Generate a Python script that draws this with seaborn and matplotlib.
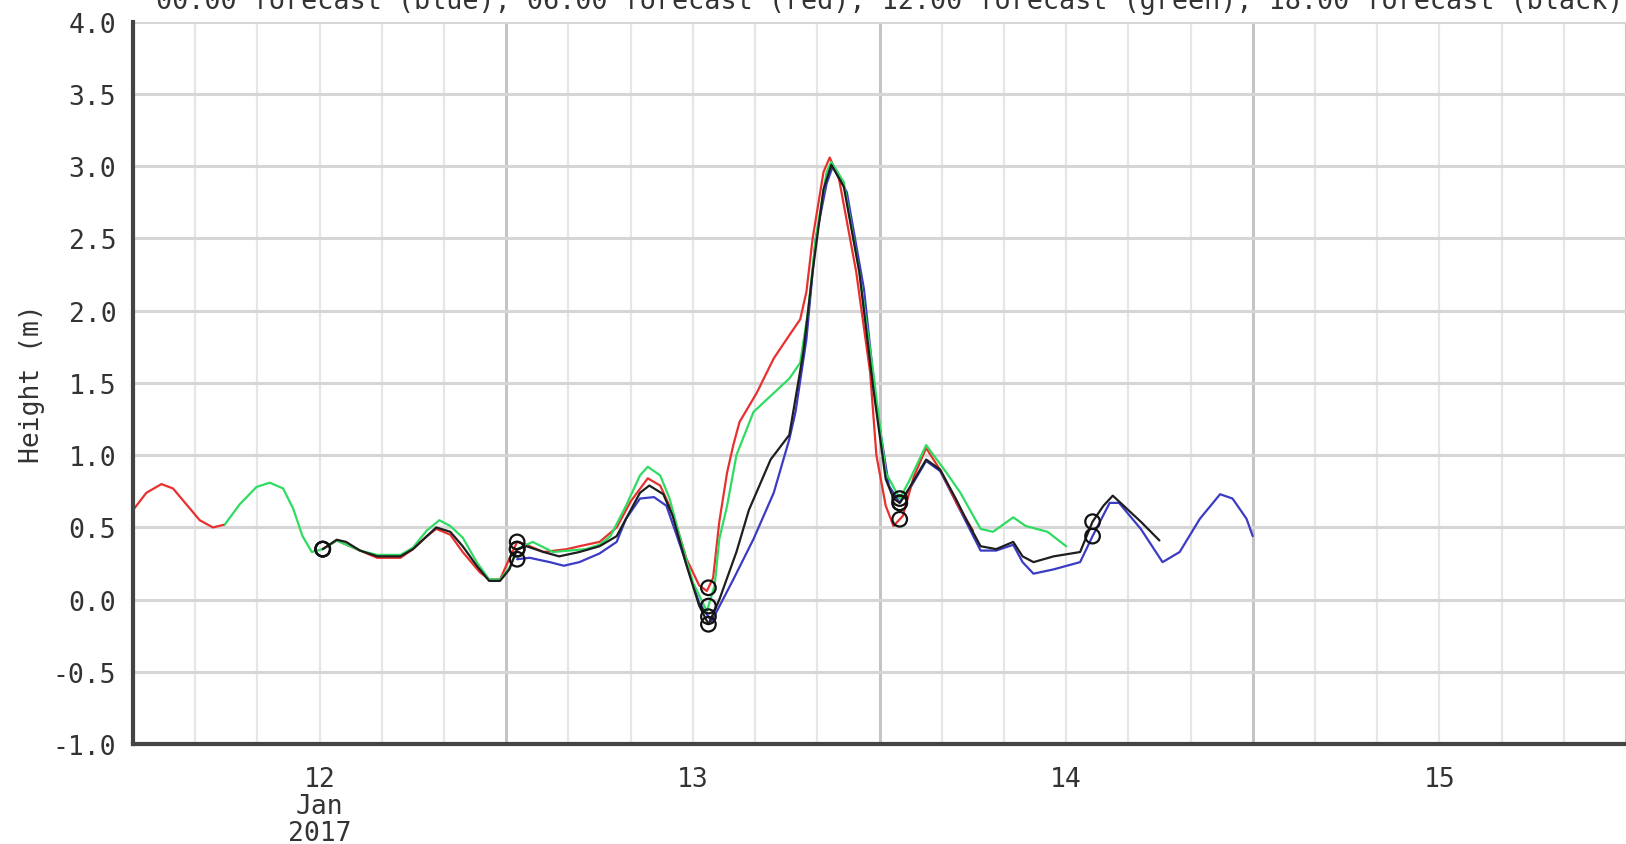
import numpy as np
import pandas as pd
import matplotlib
matplotlib.use("Agg")
import matplotlib.pyplot as plt
import seaborn as sns

# hours since 2017-01-12 00:00, heights in metres
red_early_h = [0, 0.86, 1.83, 2.57, 3.43, 4.29, 5.14, 5.9]
red_early_v = [0.62, 0.74, 0.80, 0.77, 0.66, 0.55, 0.50, 0.52]

red_h = [12.2, 13.1, 14.6, 15.7, 17.2, 18.0, 18.9, 19.5, 20.4, 21.2,
         22.3, 22.9, 23.6, 24.1, 24.7, 25.3, 26.4, 27.9, 28.7, 30.0,
         31.1, 32.0, 33.1, 33.9, 34.7, 35.6, 36.4, 36.9, 37.3, 37.7,
         38.2, 38.6, 39.0, 40.1, 41.2, 42.2, 42.9, 43.3, 43.7, 44.4,
         44.8, 45.4, 46.5, 47.4, 47.8, 48.4, 48.9, 49.5, 50.2, 51.0,
         52.0, 53.0, 54.0]
red_v = [0.35, 0.41, 0.34, 0.29, 0.29, 0.35, 0.44, 0.49, 0.45, 0.33,
         0.19, 0.14, 0.14, 0.26, 0.40, 0.38, 0.33, 0.35, 0.37, 0.40,
         0.50, 0.68, 0.84, 0.79, 0.60, 0.28, 0.10, 0.06, 0.15, 0.54,
         0.88, 1.07, 1.23, 1.43, 1.67, 1.83, 1.94, 2.13, 2.50, 2.96,
         3.06, 2.91, 2.27, 1.57, 1.00, 0.65, 0.51, 0.58, 0.85, 1.05,
         0.88, 0.66, 0.48]

green_h = [5.9, 6.86, 7.94, 8.79, 9.65, 10.3, 10.9, 11.5, 12.2, 13.1,
           14.6, 15.7, 17.2, 18.0, 18.9, 19.7, 20.4, 21.2, 22.1, 22.9,
           23.6, 24.2, 24.7, 25.7, 27.0, 29.1, 30.0, 30.7, 31.7, 32.6,
           33.1, 33.9, 34.5, 35.2, 36.0, 36.9, 37.4, 37.7, 38.2, 38.8,
           39.9, 41.2, 42.2, 42.9, 43.4, 43.9, 44.6, 44.9, 45.7, 46.7,
           47.6, 48.4, 49.3, 49.9, 51.0, 52.3, 53.2, 54.5, 55.3, 56.6,
           57.4, 58.8, 60.0]
green_v = [0.52, 0.66, 0.78, 0.81, 0.77, 0.63, 0.44, 0.33, 0.35, 0.41,
           0.34, 0.31, 0.31, 0.36, 0.48, 0.55, 0.51, 0.43, 0.26, 0.14,
           0.14, 0.22, 0.35, 0.40, 0.33, 0.35, 0.38, 0.44, 0.65, 0.86,
           0.92, 0.86, 0.70, 0.42, 0.12, -0.08, 0.10, 0.42, 0.65, 1.00,
           1.30, 1.43, 1.53, 1.64, 1.99, 2.50, 2.96, 3.03, 2.89, 2.27,
           1.57, 0.88, 0.70, 0.82, 1.07, 0.88, 0.74, 0.49, 0.47, 0.57,
           0.51, 0.47, 0.37]

black_h = [12.2, 13.1, 13.7, 14.6, 15.7, 17.2, 18.0, 18.9, 19.5, 20.4,
           21.2, 22.1, 22.9, 23.6, 24.2, 24.7, 25.3, 26.4, 27.4, 28.7,
           30.0, 31.1, 32.0, 32.6, 33.2, 34.1, 34.7, 35.6, 36.4, 37.0,
           37.7, 38.8, 39.6, 41.0, 42.2, 43.1, 43.7, 44.4, 44.9, 45.7,
           46.7, 47.6, 48.4, 48.9, 49.3, 49.9, 51.0, 51.9, 52.9, 53.6,
           54.5, 55.5, 56.6, 57.2, 57.9, 59.2, 60.9, 61.7, 62.4, 63.0,
           63.7, 64.8, 66.0]
black_v = [0.35, 0.415, 0.40, 0.34, 0.30, 0.30, 0.35, 0.44, 0.50, 0.47,
           0.37, 0.235, 0.13, 0.13, 0.21, 0.35, 0.37, 0.33, 0.30, 0.33,
           0.37, 0.44, 0.62, 0.74, 0.79, 0.73, 0.58, 0.235, -0.04, -0.17,
           0.0, 0.33, 0.62, 0.97, 1.14, 1.71, 2.27, 2.84, 3.01, 2.86,
           2.27, 1.46, 0.835, 0.70, 0.67, 0.77, 0.97, 0.90, 0.70, 0.55,
           0.37, 0.35, 0.40, 0.30, 0.26, 0.30, 0.33, 0.54, 0.65, 0.72,
           0.65, 0.54, 0.41]

blue_h = [24.7, 25.5, 26.8, 27.7, 28.7, 30.0, 31.1, 31.7, 32.6, 33.5,
          34.3, 35.2, 36.4, 37.2, 38.6, 39.9, 41.2, 42.2, 42.6, 43.3,
          43.9, 44.6, 45.0, 45.9, 47.0, 47.8, 48.6, 49.3, 49.9, 51.0,
          51.9, 52.9, 54.5, 55.5, 56.6, 57.2, 57.9, 59.2, 60.9, 61.7,
          62.8, 63.4, 64.8, 66.2, 67.3, 68.6, 69.9, 70.7, 71.6, 72.0]
blue_v = [0.28, 0.29, 0.26, 0.235, 0.26, 0.32, 0.40, 0.56, 0.70, 0.71,
          0.65, 0.37, -0.02, -0.15, 0.14, 0.42, 0.74, 1.11, 1.30, 1.80,
          2.50, 2.88, 3.0, 2.82, 2.15, 1.34, 0.79, 0.67, 0.76, 0.96,
          0.89, 0.68, 0.34, 0.34, 0.38, 0.26, 0.18, 0.21, 0.26, 0.44,
          0.67, 0.67, 0.49, 0.26, 0.33, 0.56, 0.73, 0.70, 0.56, 0.44]

# predicted high water times (circles)
hw_hours = [12.2, 24.7, 37.0, 49.3, 61.7]

day_label_hours = [12, 36, 60, 84]
day_labels = ["12\nJan\n2017", "13", "14", "15"]

title = ("00:00 forecast (blue), 06:00 forecast (red), "
         "12:00 forecast (green), 18:00 forecast (black)")

colors = {"blue": "#3b3bc4", "red": "#e8302e", "green": "#2fdc62", "black": "#1e1e1e"}

segments = [
    ("blue", "blue", blue_h, blue_v),
    ("red", "red_early", red_early_h, red_early_v),
    ("red", "red", red_h, red_v),
    ("green", "green", green_h, green_v),
    ("black", "black", black_h, black_v),
]

rows = []
for fc, seg, hh, vv in segments:
    for h, v in zip(hh, vv):
        rows.append((fc, seg, h, v))
df = pd.DataFrame(rows, columns=["forecast", "segment", "hour", "height"])

# circle points sit on each curve at the high water times
circ = []
for fc, seg, hh, vv in segments:
    for t in hw_hours:
        if hh[0] <= t <= hh[-1]:
            circ.append((t, float(np.interp(t, hh, vv))))
circ = pd.DataFrame(circ, columns=["hour", "height"])

sns.set_style("white")
plt.rcParams["font.family"] = ["DejaVu Sans Mono", "DejaVu Sans"]
plt.rcParams["axes.unicode_minus"] = False

fig = plt.figure(figsize=(16.26, 8.45), dpi=100)
ax = fig.add_axes([133 / 1626, 1 - 745.2 / 845, 1 - 133 / 1626, (745.2 - 22.7) / 845])

sns.lineplot(data=df, x="hour", y="height", hue="forecast", units="segment",
             estimator=None, palette=colors, hue_order=["blue", "red", "green", "black"],
             linewidth=1.6, legend=False, sort=False, ax=ax)
for ln in ax.lines:
    ln.set_solid_joinstyle("round")
sns.scatterplot(data=circ, x="hour", y="height", marker="o", s=110,
                facecolor="none", edgecolor="#111111", linewidth=1.6, zorder=5, ax=ax)

ax.set_xlim(0, 96)
ax.set_ylim(-1.0, 4.0)
ax.set_yticks(np.arange(-1.0, 4.01, 0.5))
ax.set_yticklabels([f"{v:.1f}" for v in np.arange(-1.0, 4.01, 0.5)])

ax.set_xticks([0, 24, 48, 72, 96])
ax.set_xticklabels([])
minor = [h for h in range(4, 96, 4) if h % 24 != 0]
ax.set_xticks(minor, minor=True)
lab_map = dict(zip(day_label_hours, day_labels))
ax.set_xticklabels([lab_map.get(h, "") for h in minor], minor=True, linespacing=1.05)

ax.grid(which="major", axis="y", color="#d6d6d6", linewidth=2.2)
ax.grid(which="major", axis="x", color="#c4c4c4", linewidth=2.2)
ax.grid(which="minor", axis="x", color="#e6e6e6", linewidth=1.6)
ax.set_axisbelow(True)

for s in ["top", "right"]:
    ax.spines[s].set_visible(False)
for s in ["left", "bottom"]:
    ax.spines[s].set_color("#444444")
    ax.spines[s].set_linewidth(3)

ax.tick_params(axis="y", which="major", length=8, width=2.5, color="#444444",
               pad=4, labelsize=19, labelcolor="#333333")
ax.tick_params(axis="x", which="major", length=12, width=2.5, color="#444444")
ax.tick_params(axis="x", which="minor", length=0, pad=16, labelsize=19,
               labelcolor="#333333")

ax.set_xlabel("")
ax.set_ylabel("Height (m)", fontsize=19, color="#333333")
ax.yaxis.set_label_coords(-0.059, 0.5)

# the title sits partly above the top edge, as in the original image
fig.text(0.547, 1 - 9 / 845, title, ha="center", va="baseline",
         fontsize=19.4, color="#333333")

fig.savefig("out.png", dpi=100)
